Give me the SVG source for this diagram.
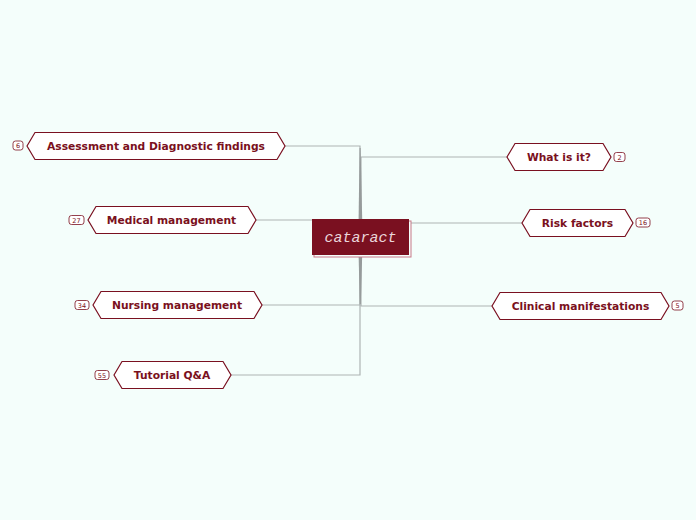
<svg xmlns="http://www.w3.org/2000/svg" width="696" height="520" viewBox="0 0 696 520">
<style>
.node{fill:#ffffff;stroke:#7a1020;stroke-width:1.2}
.lbl{font-family:"DejaVu Sans",Verdana,sans-serif;font-weight:bold;font-size:10.7px;fill:#7a1020;text-anchor:middle}
.badge{fill:#ffffff;stroke:#7a1020;stroke-width:0.8}
.btxt{font-family:"DejaVu Sans",sans-serif;font-size:6.5px;fill:#7a1020;text-anchor:middle}
.con{fill:none;stroke:#adb4b4;stroke-width:1.2}
.trunk{fill:#969b9b}
</style>
<rect width="696" height="520" fill="#f4fefb"/>
<g id="connectors">
<path class="con" d="M285,146 H360 V219"/>
<path class="con" d="M256,220 H312"/>
<path class="con" d="M262,305 H360 V255"/>
<path class="con" d="M231,375 H360 V255"/>
<path class="con" d="M507,157 H361 V219"/>
<path class="con" d="M409,223 H522"/>
<path class="con" d="M492,306 H361 V255"/>
<polygon class="trunk" points="359.6,148 360.6,148 362.2,219 358.6,219"/>
<polygon class="trunk" points="358.6,255 362.2,255 360.8,304 359.8,304"/>
</g>
<g id="center">
<rect x="314" y="221" width="97" height="36" fill="#f4fefb" stroke="#c87888" stroke-width="1"/>
<rect x="312" y="219" width="97" height="36" fill="#7a1020"/>
<text x="360.5" y="242" font-family="'Liberation Mono','DejaVu Sans Mono',monospace" font-style="italic" font-size="15" fill="#ead6da" text-anchor="middle">cataract</text>
</g>
<g id="n-assessment">
<path class="node" d="M27,146 L35,132.5 H277 L285,146 L277,159.5 H35 Z"/>
<text class="lbl" x="156" y="150">Assessment and Diagnostic findings</text>
<rect class="badge" x="13" y="141" width="10" height="9" rx="2.5"/>
<text class="btxt" x="18" y="148">6</text>
</g>
<g id="n-medical">
<path class="node" d="M88,220 L96,206.5 H248 L256,220 L248,233.5 H96 Z"/>
<text class="lbl" x="171.5" y="224">Medical management</text>
<rect class="badge" x="69" y="215.5" width="15" height="9" rx="2.5"/>
<text class="btxt" x="76.5" y="222.5">27</text>
</g>
<g id="n-nursing">
<path class="node" d="M93,305 L101,291.5 H254 L262,305 L254,318.5 H101 Z"/>
<text class="lbl" x="177" y="309">Nursing management</text>
<rect class="badge" x="75" y="300.5" width="14" height="9" rx="2.5"/>
<text class="btxt" x="82" y="307.5">34</text>
</g>
<g id="n-tutorial">
<path class="node" d="M114,375 L122,361.5 H223 L231,375 L223,388.5 H122 Z"/>
<text class="lbl" x="172" y="379">Tutorial Q&amp;A</text>
<rect class="badge" x="95" y="370.5" width="14" height="9" rx="2.5"/>
<text class="btxt" x="102" y="377.5">55</text>
</g>
<g id="n-what">
<path class="node" d="M507,157 L515,143.5 H603 L611,157 L603,170.5 H515 Z"/>
<text class="lbl" x="559" y="161">What is it?</text>
<rect class="badge" x="614" y="152.5" width="11" height="9" rx="2.5"/>
<text class="btxt" x="619.5" y="159.5">2</text>
</g>
<g id="n-risk">
<path class="node" d="M522,223 L530,209.5 H625 L633,223 L625,236.5 H530 Z"/>
<text class="lbl" x="577.5" y="227">Risk factors</text>
<rect class="badge" x="636" y="218" width="14" height="9" rx="2.5"/>
<text class="btxt" x="643" y="225">16</text>
</g>
<g id="n-clinical">
<path class="node" d="M492,306 L500,292.5 H661 L669,306 L661,319.5 H500 Z"/>
<text class="lbl" x="580.5" y="310">Clinical manifestations</text>
<rect class="badge" x="672" y="301" width="11" height="9" rx="2.5"/>
<text class="btxt" x="677.5" y="308">5</text>
</g>
</svg>
